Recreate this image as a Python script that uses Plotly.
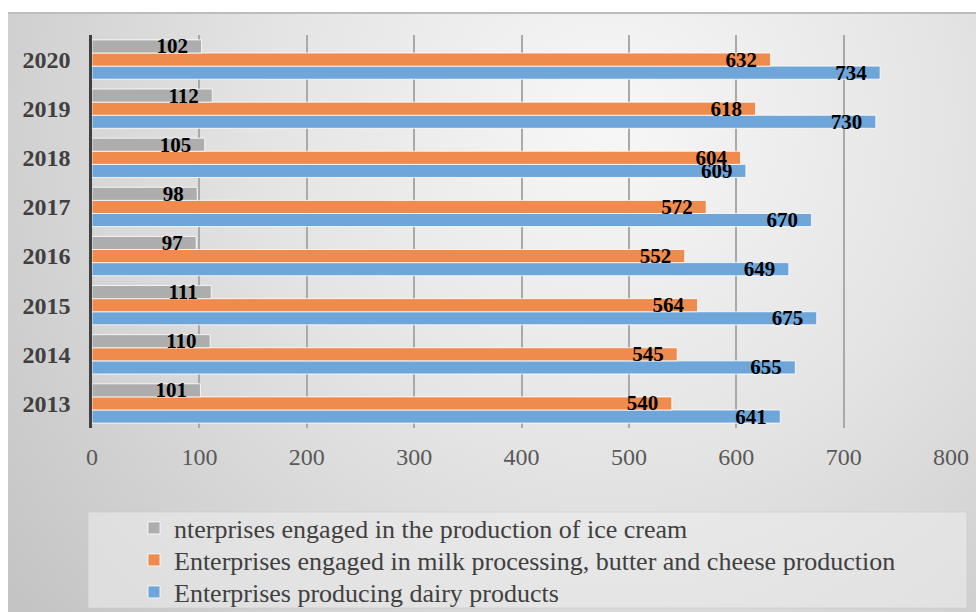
import base64
import plotly.graph_objects as go

# Number of enterprises by year
years = ["2013", "2014", "2015", "2016", "2017", "2018", "2019", "2020"]
dairy_products = [641, 655, 675, 649, 670, 609, 730, 734]
milk_butter_cheese = [540, 545, 564, 552, 572, 604, 618, 632]
ice_cream = [101, 110, 111, 97, 98, 105, 112, 102]

series_names = [
    "Enterprises producing dairy products",
    "Enterprises engaged in milk processing, butter and cheese production",
    "nterprises engaged in the production of ice cream",
]
x_ticks = [0, 100, 200, 300, 400, 500, 600, 700, 800]

W, H = 976, 612
ML, MR, MT, MB = 92, 25, 35, 184
PW, PH = W - ML - MR, H - MT - MB
SERIF = "Liberation Serif, Times New Roman, serif"


def px_to_paper_x(px):
    return (px - ML) / PW


def px_to_paper_y(py):
    return (H - MB - py) / PH


# Soft radial backdrop for the chart frame
frame_w, frame_h = 968, 600
svg = f"""<svg xmlns='http://www.w3.org/2000/svg' width='{frame_w}' height='{frame_h}' viewBox='0 0 {frame_w} {frame_h}'>
<defs><radialGradient id='g' gradientUnits='userSpaceOnUse' cx='600' cy='110' r='760'>
<stop offset='0' stop-color='#f7f7f7'/><stop offset='0.45' stop-color='#e4e4e4'/><stop offset='1' stop-color='#c4c4c4'/>
</radialGradient></defs>
<rect x='0' y='0' width='{frame_w}' height='{frame_h}' fill='url(#g)'/>
<line x1='0' y1='1' x2='{frame_w}' y2='1' stroke='#bdbdbd' stroke-width='2'/>
</svg>"""
bg_src = "data:image/svg+xml;base64," + base64.b64encode(svg.encode()).decode()

label_font = dict(family=SERIF, size=21, color="black", weight="bold")

# one single-entry legend per series, stacked as rows (top row = ice cream)
legend_ids = ["legend3", "legend2", "legend"]
legend_rows_px = {"legend": 528, "legend2": 560, "legend3": 592}

fig = go.Figure()
for name, vals, col, lg in [
    (series_names[0], dairy_products, "#6fa6d9", "legend3"),
    (series_names[1], milk_butter_cheese, "#ee8b4d", "legend2"),
    (series_names[2], ice_cream, "#adadad", "legend"),
]:
    fig.add_trace(go.Bar(
        y=years, x=vals, name=name, orientation="h", legend=lg,
        marker=dict(color=col, line=dict(color="rgba(255,255,255,0.8)", width=1)),
        text=vals, texttemplate="%{x}\u2007", textposition="inside",
        insidetextanchor="end", constraintext="none",
        textfont=label_font, cliponaxis=False,
    ))

legend_style = {
    lg: dict(
        x=px_to_paper_x(134), xanchor="left",
        y=px_to_paper_y(row), yanchor="middle",
        bgcolor="rgba(0,0,0,0)", borderwidth=0,
        font=dict(family=SERIF, size=26, color="#404040"),
    )
    for lg, row in legend_rows_px.items()
}

fig.update_layout(
    width=W, height=H,
    margin=dict(l=ML, r=MR, t=MT, b=MB, autoexpand=False),
    paper_bgcolor="white", plot_bgcolor="rgba(0,0,0,0)",
    barmode="group", bargap=0.2, bargroupgap=0,
    xaxis=dict(
        range=[0, 800], tickvals=x_ticks, showgrid=True,
        gridcolor="#a9a9a9", gridwidth=1.5, zeroline=False, showline=False,
        tickfont=dict(family=SERIF, size=24, color="#595959"),
        ticklabelstandoff=12, fixedrange=True,
    ),
    yaxis=dict(
        categoryorder="array", categoryarray=years,
        showgrid=False, zeroline=False, showline=True,
        linecolor="#404040", linewidth=2.5,
        tickfont=dict(family=SERIF, size=24, color="#404040", weight="bold"),
        ticklabelstandoff=14,
    ),
    showlegend=True,
    images=[dict(
        source=bg_src, xref="paper", yref="paper",
        x=px_to_paper_x(8), y=px_to_paper_y(12),
        sizex=frame_w / PW, sizey=frame_h / PH,
        xanchor="left", yanchor="top", sizing="stretch", layer="below",
    )],
    shapes=[dict(
        type="rect", xref="paper", yref="paper", layer="below",
        x0=px_to_paper_x(88), x1=px_to_paper_x(967),
        y0=px_to_paper_y(512), y1=px_to_paper_y(608),
        fillcolor="rgba(238,238,238,0.55)", line=dict(color="rgba(200,200,200,0.6)", width=1),
    )],
    **legend_style,
)

fig.write_html("out.html")
